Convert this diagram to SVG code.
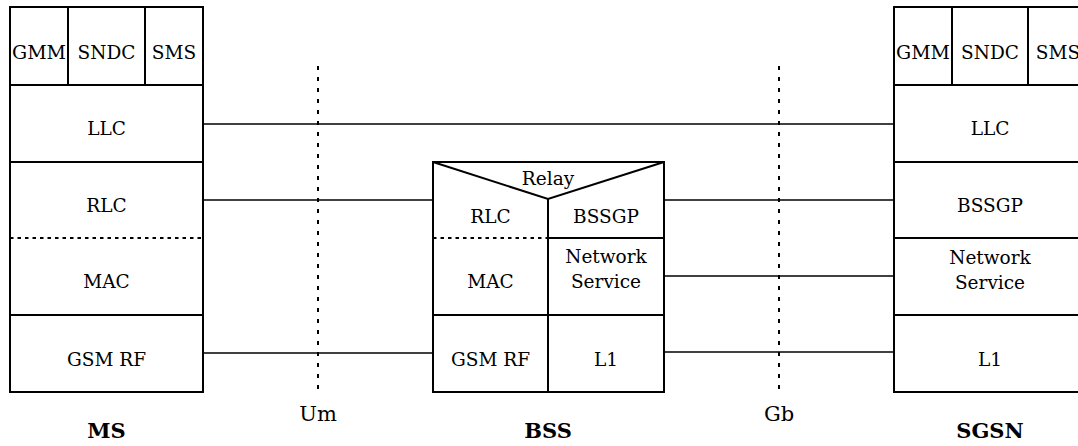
<svg xmlns="http://www.w3.org/2000/svg" width="1078" height="446" viewBox="0 0 1078 446">
<style>
.box{fill:#fff;stroke:#000;stroke-width:2}
.ln{stroke:#000;stroke-width:2;fill:none}
.dot{stroke:#000;stroke-width:2;stroke-dasharray:3.5 4;fill:none}
.vdot{stroke:#000;stroke-width:2;stroke-dasharray:4 7;fill:none}
.conn{stroke:#000;stroke-width:1.5;fill:none}
text{font-family:'DejaVu Serif',serif;font-size:18.5px;text-anchor:middle;fill:#000}
.big{font-size:21px;font-weight:bold}
.if{font-size:21px}
</style>
<rect width="1078" height="446" fill="#fff"/>
<g id="connectors">
<line class="conn" x1="203" y1="124" x2="894" y2="124"/>
<line class="conn" x1="203" y1="200" x2="433" y2="200"/>
<line class="conn" x1="664" y1="200" x2="894" y2="200"/>
<line class="conn" x1="664" y1="276" x2="894" y2="276"/>
<line class="conn" x1="203" y1="353" x2="433" y2="353"/>
<line class="conn" x1="664" y1="352" x2="894" y2="352"/>
<line class="vdot" x1="318" y1="66" x2="318" y2="392"/>
<line class="vdot" x1="779" y1="66" x2="779" y2="392"/>
</g>
<g id="MS">
<rect class="box" x="10" y="7" width="193" height="385"/>
<line class="ln" x1="10" y1="85" x2="203" y2="85"/>
<line class="ln" x1="68" y1="7" x2="68" y2="85"/>
<line class="ln" x1="145" y1="7" x2="145" y2="85"/>
<line class="ln" x1="10" y1="162" x2="203" y2="162"/>
<line class="dot" x1="10" y1="238" x2="203" y2="238"/>
<line class="ln" x1="10" y1="315" x2="203" y2="315"/>
<text x="39" y="59" textLength="54" lengthAdjust="spacingAndGlyphs">GMM</text>
<text x="106.5" y="59">SNDC</text>
<text x="174" y="59">SMS</text>
<text x="106.5" y="135">LLC</text>
<text x="106.5" y="212">RLC</text>
<text x="106.5" y="288">MAC</text>
<text x="106.5" y="366">GSM RF</text>
<text class="big" x="106.5" y="438">MS</text>
</g>
<g id="BSS">
<rect class="box" x="433" y="162" width="231" height="230"/>
<polyline class="ln" points="433,162 548,199 664,162"/>
<line class="ln" x1="548" y1="199" x2="548" y2="392"/>
<line class="ln" x1="548" y1="238" x2="664" y2="238"/>
<line class="dot" x1="433" y1="238" x2="548" y2="238"/>
<line class="ln" x1="433" y1="315" x2="664" y2="315"/>
<text x="548" y="185">Relay</text>
<text x="490.5" y="223">RLC</text>
<text x="606" y="223">BSSGP</text>
<text x="490.5" y="288">MAC</text>
<text x="606" y="263">Network</text>
<text x="606" y="288">Service</text>
<text x="490.5" y="366">GSM RF</text>
<text x="606" y="366">L1</text>
<text class="big" x="548" y="438">BSS</text>
</g>
<g id="SGSN">
<rect class="box" x="894" y="7" width="193" height="385"/>
<line class="ln" x1="894" y1="85" x2="1087" y2="85"/>
<line class="ln" x1="952" y1="7" x2="952" y2="85"/>
<line class="ln" x1="1028" y1="7" x2="1028" y2="85"/>
<line class="ln" x1="894" y1="162" x2="1087" y2="162"/>
<line class="ln" x1="894" y1="238" x2="1087" y2="238"/>
<line class="ln" x1="894" y1="315" x2="1087" y2="315"/>
<text x="923" y="59" textLength="54" lengthAdjust="spacingAndGlyphs">GMM</text>
<text x="990" y="59">SNDC</text>
<text x="1058" y="59">SMS</text>
<text x="990" y="135">LLC</text>
<text x="990" y="212">BSSGP</text>
<text x="990" y="264">Network</text>
<text x="990" y="289">Service</text>
<text x="990" y="366">L1</text>
<text class="big" x="990" y="438">SGSN</text>
</g>
<g id="labels">
<text class="if" x="318" y="421">Um</text>
<text class="if" x="779" y="421">Gb</text>
</g>
</svg>
